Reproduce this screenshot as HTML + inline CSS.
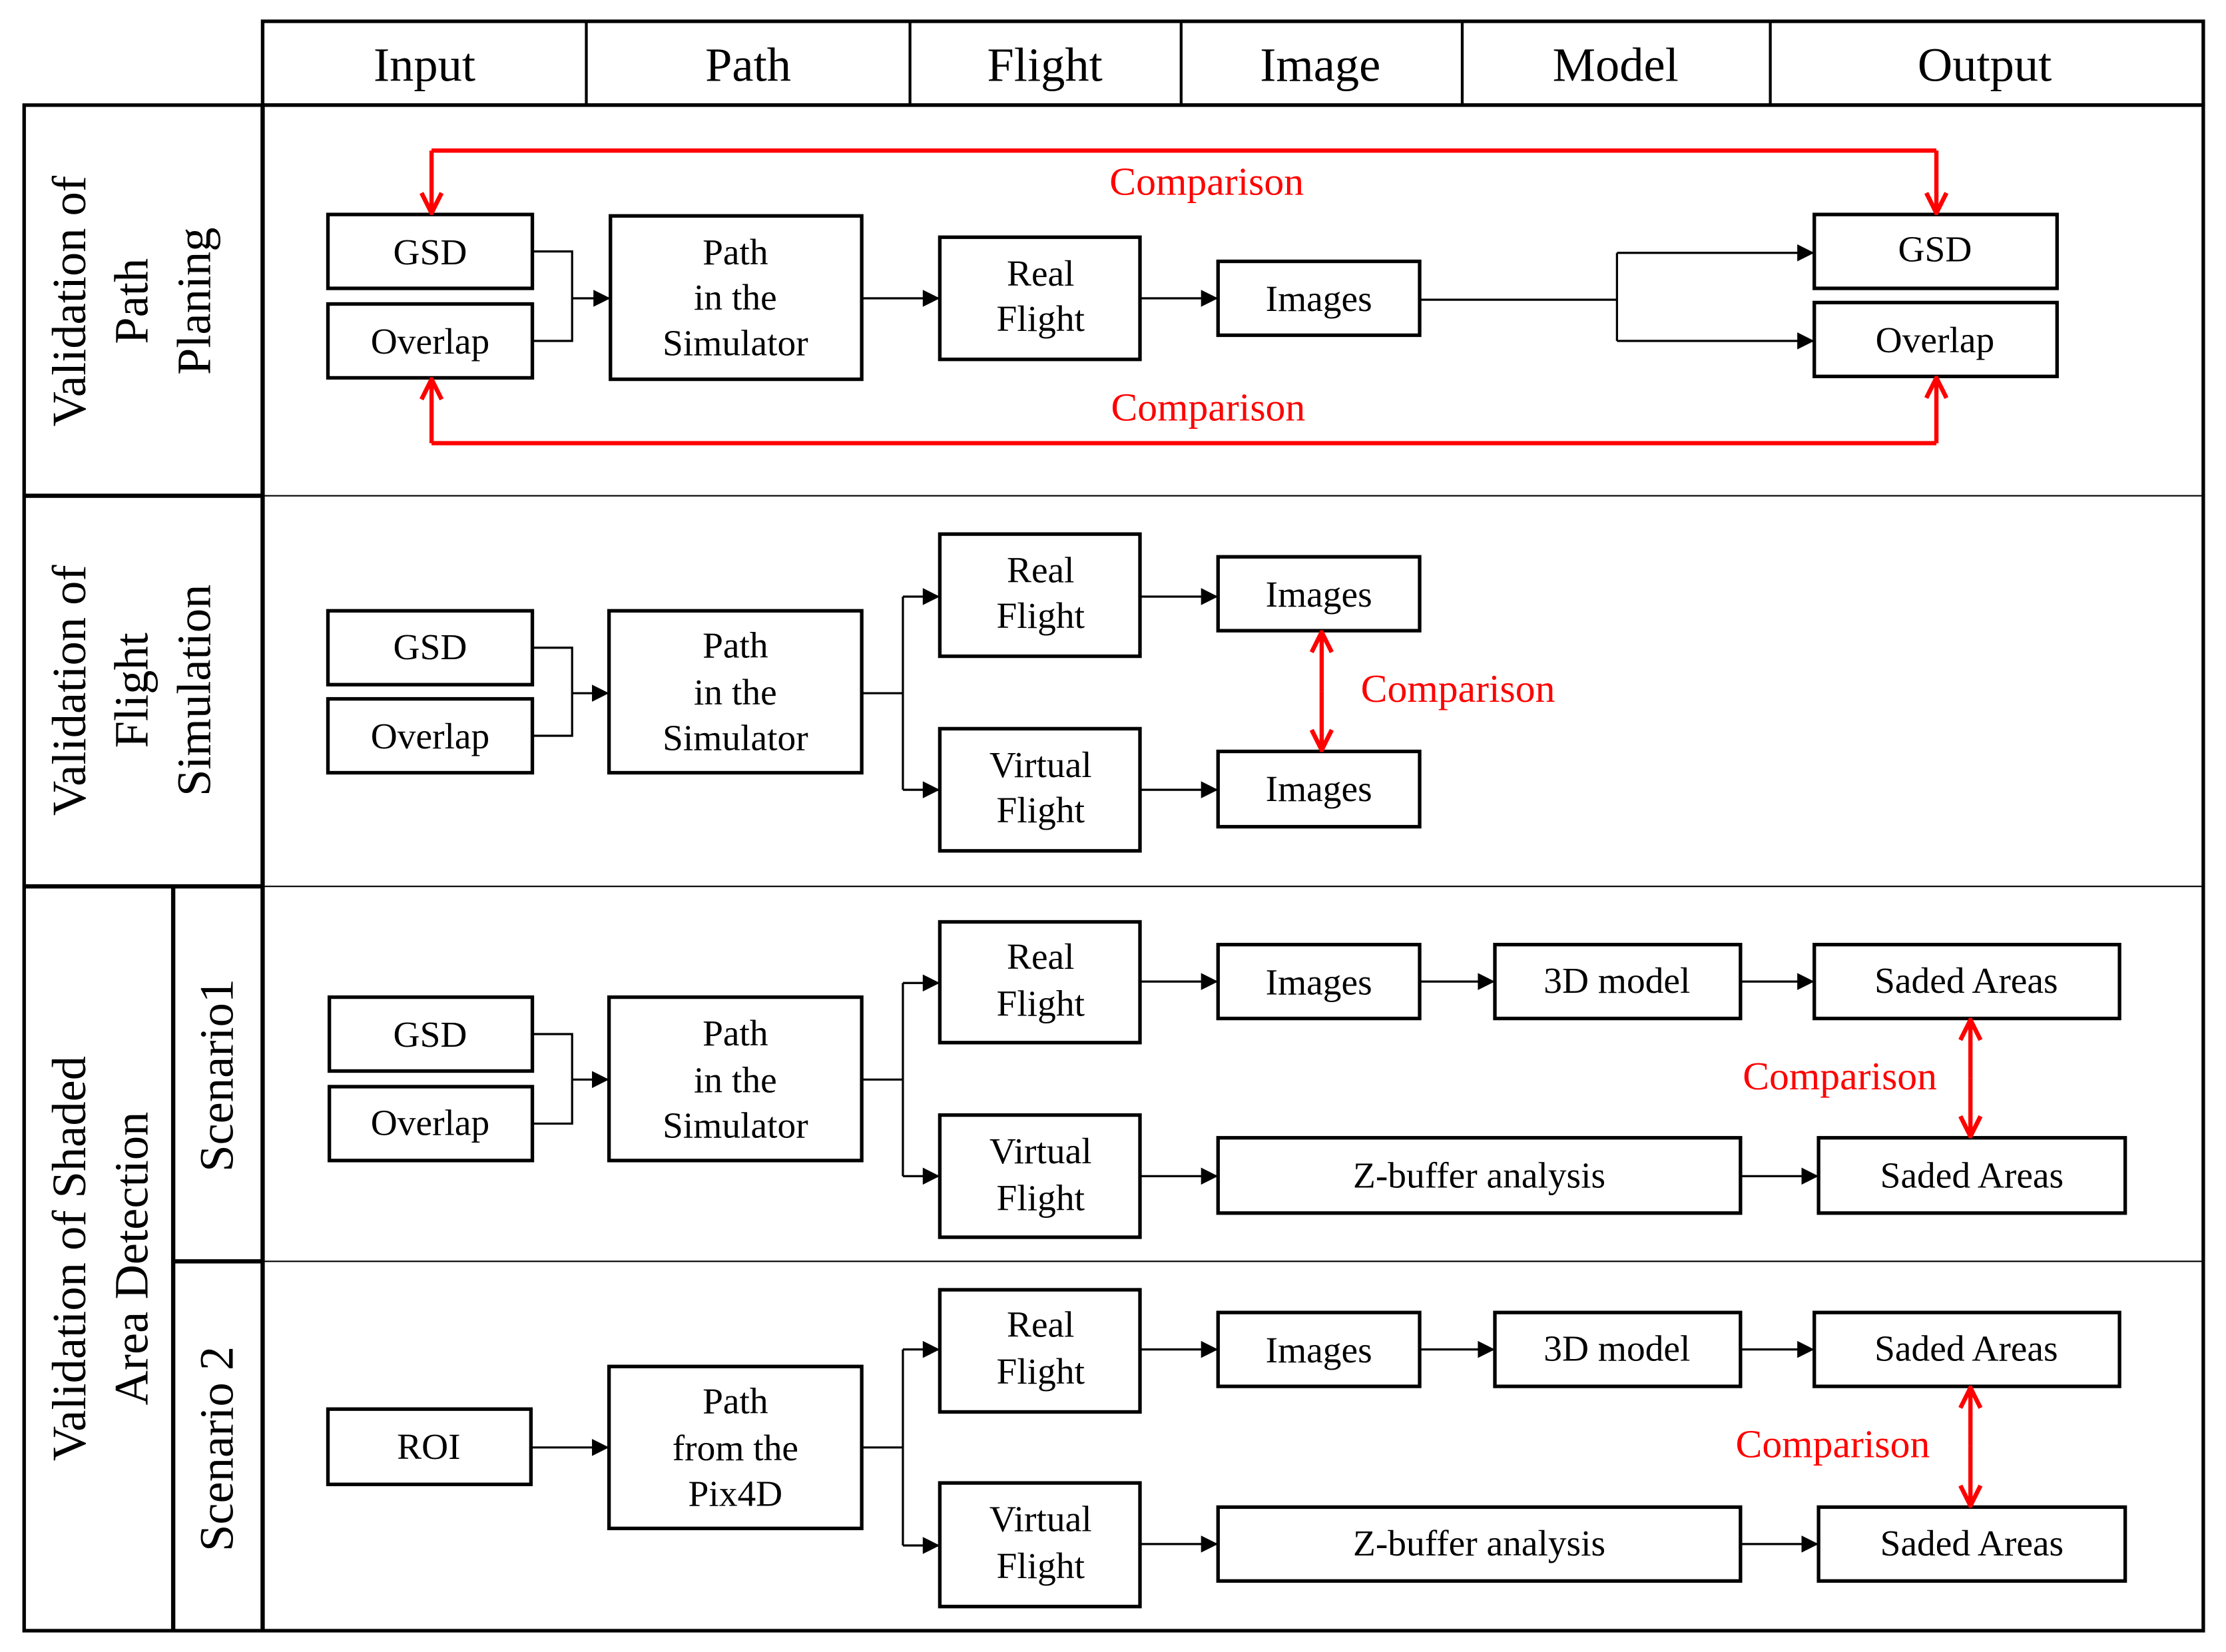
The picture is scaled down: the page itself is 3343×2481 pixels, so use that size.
<!DOCTYPE html>
<html><head><meta charset="utf-8"><style>html,body{margin:0;padding:0;background:#fff}svg{display:block}</style></head><body>
<svg xmlns="http://www.w3.org/2000/svg" width="3343" height="2481" viewBox="0 0 1568 1163" preserveAspectRatio="none" font-family="'Liberation Serif',serif">
<defs>
<marker id="a" viewBox="0 0 10 10" refX="10" refY="5" markerWidth="13" markerHeight="12" orient="auto" markerUnits="userSpaceOnUse"><path d="M0,0L10,5L0,10z" fill="#000"/></marker>
<marker id="r" viewBox="0 0 12 12" refX="11" refY="6" markerWidth="17" markerHeight="17" orient="auto" markerUnits="userSpaceOnUse"><path d="M1,1L11,6L1,11" fill="none" stroke="#f00" stroke-width="2.2"/></marker>
</defs>
<g fill="none" stroke="#000">
<rect x="185" y="15" width="1367" height="59" stroke-width="2.5"/>
<path d="M413,15V74M641,15V74M832,15V74M1030,15V74M1247,15V74" stroke-width="2"/>
<rect x="17" y="74" width="1535" height="1074" stroke-width="2.5"/>
<path d="M185,74V1148M122,624V1148" stroke-width="3"/>
<path d="M17,349H185M17,624H185M122,888H185" stroke-width="3"/>
<path d="M185,349H1552M185,624H1552M185,888H1552" stroke-width="1"/>
</g>
<g font-size="34" text-anchor="middle">
<text x="299" y="57">Input</text><text x="527" y="57">Path</text><text x="736" y="57">Flight</text><text x="930" y="57">Image</text><text x="1138" y="57">Model</text><text x="1398" y="57">Output</text>
</g>
<g font-size="34" text-anchor="middle">
<g transform="translate(100,212) rotate(-90)"><text x="0" y="-40">Validation of</text><text x="0" y="4">Path</text><text x="0" y="48">Planing</text></g>
<g transform="translate(100,486) rotate(-90)"><text x="0" y="-40">Validation of</text><text x="0" y="4">Flight</text><text x="0" y="48">Simulation</text></g>
<g transform="translate(70,886) rotate(-90)"><text x="0" y="-10">Validation of Shaded</text><text x="0" y="34">Area Detection</text></g>
<text transform="translate(164,757) rotate(-90)">Scenario1</text>
<text transform="translate(164,1020) rotate(-90)">Scenario 2</text>
</g>
<g fill="#fff" stroke="#000" stroke-width="2.5">
<rect x="231" y="151" width="144" height="52"/><rect x="231" y="214" width="144" height="52"/>
<rect x="430" y="152" width="177" height="115"/><rect x="662" y="167" width="141" height="86"/>
<rect x="858" y="184" width="142" height="52"/><rect x="1278" y="151" width="171" height="52"/><rect x="1278" y="213" width="171" height="52"/>
<rect x="231" y="430" width="144" height="52"/><rect x="231" y="492" width="144" height="52"/>
<rect x="429" y="430" width="178" height="114"/><rect x="662" y="376" width="141" height="86"/><rect x="662" y="513" width="141" height="86"/>
<rect x="858" y="392" width="142" height="52"/><rect x="858" y="529" width="142" height="53"/>
<rect x="232" y="702" width="143" height="52"/><rect x="232" y="765" width="143" height="52"/>
<rect x="429" y="702" width="178" height="115"/><rect x="662" y="649" width="141" height="85"/><rect x="662" y="785" width="141" height="86"/>
<rect x="858" y="665" width="142" height="52"/><rect x="1053" y="665" width="173" height="52"/><rect x="1278" y="665" width="215" height="52"/>
<rect x="858" y="801" width="368" height="53"/><rect x="1281" y="801" width="216" height="53"/>
<rect x="231" y="992" width="143" height="53"/><rect x="429" y="962" width="178" height="114"/>
<rect x="662" y="908" width="141" height="86"/><rect x="662" y="1044" width="141" height="87"/>
<rect x="858" y="924" width="142" height="52"/><rect x="1053" y="924" width="173" height="52"/><rect x="1278" y="924" width="215" height="52"/>
<rect x="858" y="1061" width="368" height="52"/><rect x="1281" y="1061" width="216" height="52"/>
</g>
<g font-size="26" text-anchor="middle">
<text x="303" y="186">GSD</text><text x="303" y="249">Overlap</text>
<text x="518" y="186">Path</text><text x="518" y="218">in the</text><text x="518" y="250">Simulator</text>
<text x="733" y="201">Real</text><text x="733" y="233">Flight</text>
<text x="929" y="219">Images</text><text x="1363" y="184">GSD</text><text x="1363" y="248">Overlap</text>
<text x="303" y="464">GSD</text><text x="303" y="527">Overlap</text>
<text x="518" y="463">Path</text><text x="518" y="496">in the</text><text x="518" y="528">Simulator</text>
<text x="733" y="410">Real</text><text x="733" y="442">Flight</text>
<text x="733" y="547">Virtual</text><text x="733" y="579">Flight</text>
<text x="929" y="427">Images</text><text x="929" y="564">Images</text>
<text x="303" y="737">GSD</text><text x="303" y="799">Overlap</text>
<text x="518" y="736">Path</text><text x="518" y="769">in the</text><text x="518" y="801">Simulator</text>
<text x="733" y="682">Real</text><text x="733" y="715">Flight</text>
<text x="733" y="819">Virtual</text><text x="733" y="852">Flight</text>
<text x="929" y="700">Images</text><text x="1139" y="699">3D model</text><text x="1385" y="699">Saded Areas</text>
<text x="1042" y="836">Z-buffer analysis</text><text x="1389" y="836">Saded Areas</text>
<text x="302" y="1027">ROI</text>
<text x="518" y="995">Path</text><text x="518" y="1028">from the</text><text x="518" y="1060">Pix4D</text>
<text x="733" y="941">Real</text><text x="733" y="974">Flight</text>
<text x="733" y="1078">Virtual</text><text x="733" y="1111">Flight</text>
<text x="929" y="959">Images</text><text x="1139" y="958">3D model</text><text x="1385" y="958">Saded Areas</text>
<text x="1042" y="1095">Z-buffer analysis</text><text x="1389" y="1095">Saded Areas</text>
</g>
<g fill="none" stroke="#000" stroke-width="1.5">
<path d="M375,177H403V240H375"/><path d="M403,210H430" marker-end="url(#a)"/>
<path d="M607,210H662" marker-end="url(#a)"/><path d="M803,210H858" marker-end="url(#a)"/>
<path d="M1000,211H1139M1139,178V240"/><path d="M1139,178H1278" marker-end="url(#a)"/><path d="M1139,240H1278" marker-end="url(#a)"/>
<path d="M375,456H403V518H375"/><path d="M403,488H429" marker-end="url(#a)"/>
<path d="M607,488H636M636,420V556"/><path d="M636,420H662" marker-end="url(#a)"/><path d="M636,556H662" marker-end="url(#a)"/>
<path d="M803,420H858" marker-end="url(#a)"/><path d="M803,556H858" marker-end="url(#a)"/>
<path d="M375,728H403V791H375"/><path d="M403,760H429" marker-end="url(#a)"/>
<path d="M607,760H636M636,692V828"/><path d="M636,692H662" marker-end="url(#a)"/><path d="M636,828H662" marker-end="url(#a)"/>
<path d="M803,691H858" marker-end="url(#a)"/><path d="M1000,691H1053" marker-end="url(#a)"/><path d="M1226,691H1278" marker-end="url(#a)"/>
<path d="M803,828H858" marker-end="url(#a)"/><path d="M1226,828H1281" marker-end="url(#a)"/>
<path d="M374,1019H429" marker-end="url(#a)"/>
<path d="M607,1019H636M636,950V1088"/><path d="M636,950H662" marker-end="url(#a)"/><path d="M636,1088H662" marker-end="url(#a)"/>
<path d="M803,950H858" marker-end="url(#a)"/><path d="M1000,950H1053" marker-end="url(#a)"/><path d="M1226,950H1278" marker-end="url(#a)"/>
<path d="M803,1087H858" marker-end="url(#a)"/><path d="M1226,1087H1281" marker-end="url(#a)"/>
</g>
<g fill="none" stroke="#f00" stroke-width="3">
<path d="M304,106H1364"/><path d="M304,106V150" marker-end="url(#r)"/><path d="M1364,106V150" marker-end="url(#r)"/>
<path d="M304,312H1364"/><path d="M304,312V267" marker-end="url(#r)"/><path d="M1364,312V266" marker-end="url(#r)"/>
<path d="M931,487V445" marker-end="url(#r)"/><path d="M931,487V528" marker-end="url(#r)"/>
<path d="M1388,759V718" marker-end="url(#r)"/><path d="M1388,759V800" marker-end="url(#r)"/>
<path d="M1388,1018V977" marker-end="url(#r)"/><path d="M1388,1018V1060" marker-end="url(#r)"/>
</g>
<g font-size="28" fill="#f00" text-anchor="middle">
<text x="850" y="137">Comparison</text><text x="851" y="296">Comparison</text>
<text x="1027" y="494">Comparison</text><text x="1296" y="767">Comparison</text><text x="1291" y="1026">Comparison</text>
</g>
</svg>
</body></html>
